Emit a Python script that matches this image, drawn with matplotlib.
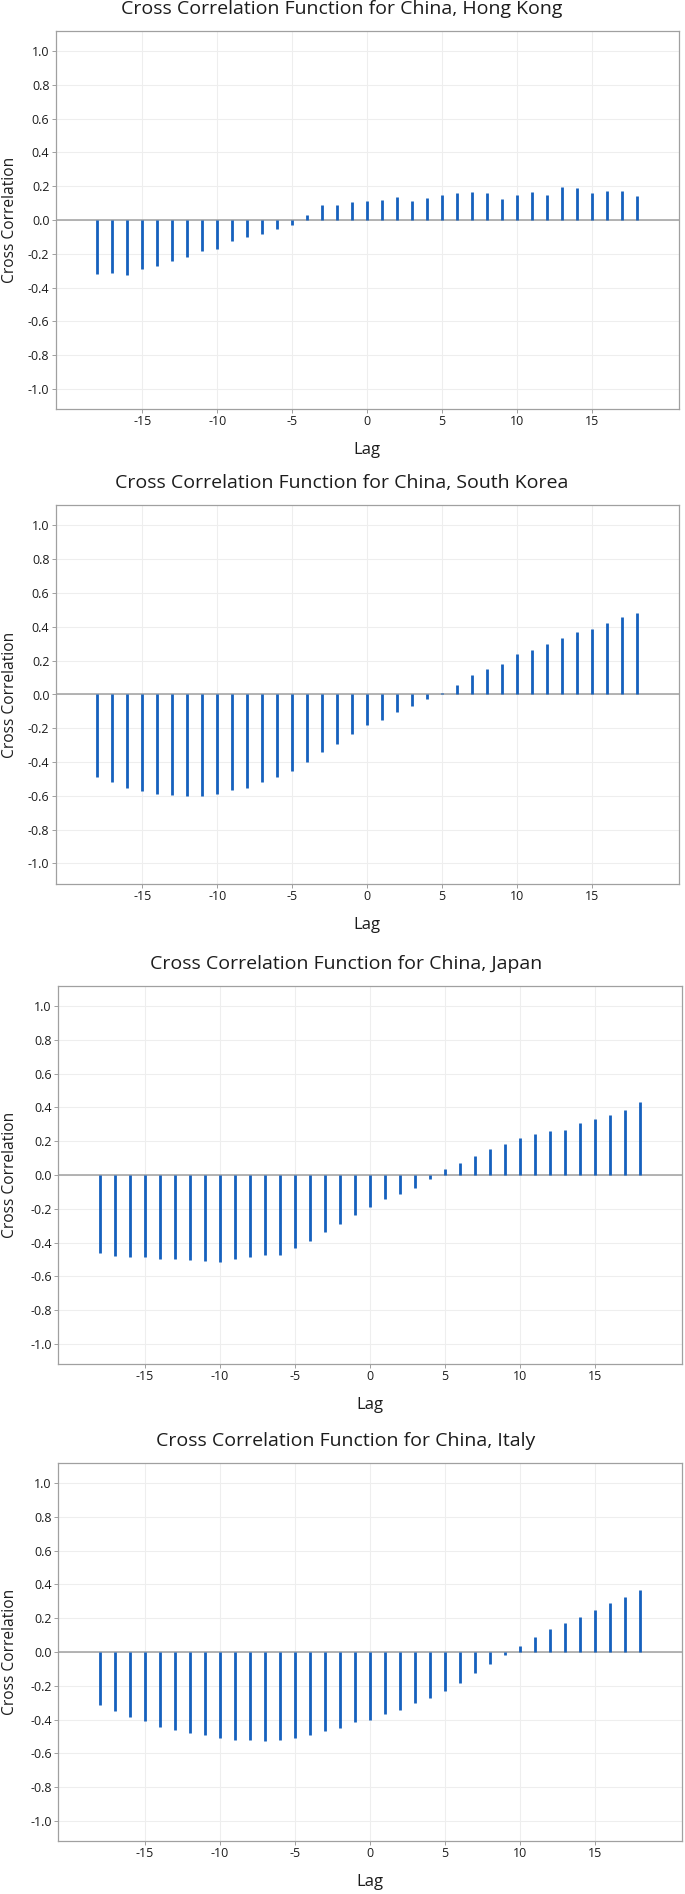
import matplotlib
matplotlib.use("Agg")
import matplotlib.pyplot as plt

plt.rcParams['font.family'] = ['Open Sans', 'DejaVu Sans']
plt.rcParams['axes.unicode_minus'] = False

lags = [-18, -17, -16, -15, -14, -13, -12, -11, -10, -9, -8, -7, -6, -5, -4, -3, -2, -1,
        0, 1, 2, 3, 4, 5, 6, 7, 8, 9, 10, 11, 12, 13, 14, 15, 16, 17, 18]

titles = ["Cross Correlation Function for China, Hong Kong",
          "Cross Correlation Function for China, South Korea",
          "Cross Correlation Function for China, Japan",
          "Cross Correlation Function for China, Italy"]

ccf_hong_kong = [-0.317, -0.311, -0.323, -0.291, -0.273, -0.244, -0.218, -0.182, -0.170, -0.127,
                 -0.101, -0.085, -0.053, -0.028, 0.030, 0.089, 0.090, 0.106, 0.114, 0.116,
                 0.134, 0.110, 0.130, 0.148, 0.160, 0.163, 0.161, 0.122, 0.150, 0.163,
                 0.150, 0.193, 0.187, 0.161, 0.171, 0.169, 0.142]
ccf_south_korea = [-0.490, -0.516, -0.553, -0.573, -0.588, -0.592, -0.598, -0.598, -0.590, -0.563,
                   -0.551, -0.518, -0.488, -0.453, -0.400, -0.339, -0.294, -0.231, -0.182, -0.150,
                   -0.105, -0.069, -0.026, 0.010, 0.057, 0.113, 0.149, 0.182, 0.240, 0.265,
                   0.299, 0.337, 0.368, 0.390, 0.426, 0.461, 0.481]
ccf_japan = [-0.464, -0.477, -0.485, -0.485, -0.499, -0.499, -0.503, -0.507, -0.515, -0.499,
             -0.485, -0.475, -0.473, -0.434, -0.393, -0.338, -0.289, -0.236, -0.187, -0.141,
             -0.110, -0.075, -0.024, 0.037, 0.071, 0.114, 0.154, 0.183, 0.221, 0.242,
             0.260, 0.268, 0.307, 0.331, 0.357, 0.384, 0.433]
ccf_italy = [-0.313, -0.350, -0.382, -0.411, -0.441, -0.463, -0.480, -0.492, -0.508, -0.518,
             -0.520, -0.528, -0.520, -0.508, -0.490, -0.467, -0.447, -0.417, -0.400, -0.368,
             -0.343, -0.303, -0.274, -0.230, -0.181, -0.126, -0.073, -0.020, 0.033, 0.090,
             0.137, 0.170, 0.207, 0.246, 0.289, 0.328, 0.367]

series = [ccf_hong_kong, ccf_south_korea, ccf_japan, ccf_italy]

x_ticks = [-15, -10, -5, 0, 5, 10, 15]
y_ticks = [-1.0, -0.8, -0.6, -0.4, -0.2, 0.0, 0.2, 0.4, 0.6, 0.8, 1.0]
y_ticklabels = ["-1.0", "-0.8", "-0.6", "-0.4", "-0.2", "0.0", "0.2", "0.4", "0.6", "0.8", "1.0"]

W, H = 685, 1894
fig = plt.figure(figsize=(W / 100, H / 100), dpi=100)

zeros = [220, 694.5, 1175, 1652]
lefts = [55.5, 55.5, 58, 58]
rights = [679, 679, 682, 682]
title_x = [342, 342, 346, 346]
YL = 1.12
ppu = 169.0
half = YL * ppu

bar_color = '#1560bd'
grid_color = '#eeeeee'
frame_color = '#a0a0a0'
text_color = '#1c1c1c'

for i in range(4):
    z = zeros[i]
    top = z - half
    bot = z + half
    ax = fig.add_axes([lefts[i] / W, 1 - bot / H, (rights[i] - lefts[i]) / W, (bot - top) / H])
    ax.set_xlim(-20.8, 20.8)
    ax.set_ylim(-YL, YL)
    ax.set_xticks(x_ticks)
    ax.set_xticklabels([str(t) for t in x_ticks])
    ax.set_yticks(y_ticks)
    ax.set_yticklabels(y_ticklabels)
    ax.grid(True, color=grid_color, linewidth=0.8)
    ax.set_axisbelow(True)
    for sp in ax.spines.values():
        sp.set_color(frame_color)
        sp.set_linewidth(0.9)
    ax.tick_params(direction='out', length=3.2, width=0.7, color=frame_color,
                   labelsize=9, labelcolor=text_color, pad=1.2)
    ax.axhline(0, color=frame_color, linewidth=1.1, zorder=2)
    ax.vlines(lags, 0, series[i], color=bar_color, linewidth=2.0, zorder=3,
              capstyle='butt')
    fig.text(title_x[i] / W, 1 - (z - 211) / H, titles[i], ha='center', va='center',
             fontsize=14, color=text_color)
    fig.text((lefts[i] + rights[i]) / 2 / W, 1 - (z + 230) / H, "Lag", ha='center', va='center',
             fontsize=12, color=text_color)
    fig.text(10 / W, 1 - z / H, "Cross Correlation", ha='center', va='center',
             rotation=90, fontsize=11.2, color=text_color)

fig.savefig("out.png", dpi=100, facecolor='white')
